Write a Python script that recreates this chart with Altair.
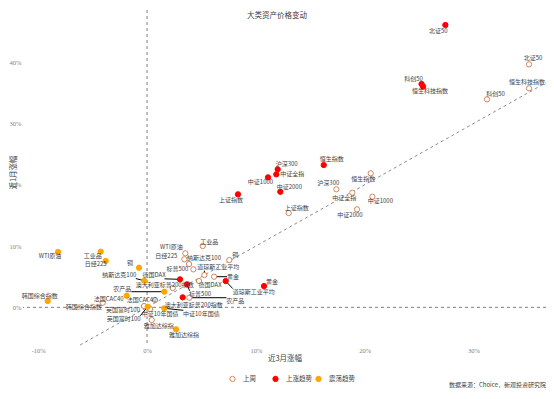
import altair as alt
import pandas as pd
import numpy as np

# ---------------- data ----------------
assets = ["北证50", "恒生科技指数", "科创50", "恒生指数", "沪深300", "中证全指", "中证1000",
          "中证2000", "上证指数", "黄金", "道琼斯工业平均", "德国DAX", "标普500", "纳斯达克100",
          "日经225", "WTI原油", "工业品", "铜", "农产品", "澳大利亚标普200指数", "法国CAC40",
          "韩国综合指数", "英国富时100", "中证10年国债", "雅加达综指"]
# last week (上周): 3-month change, 1-month change (%)
x_last = [35.11, 35.11, 31.25, 20.56, 17.40, 18.87, 20.71, 19.30, 13.02, 6.16, 5.27, 4.78, 4.26,
          3.86, 3.43, 3.52, 5.12, 7.56, 3.89, 2.36, 0.74, -4.07, -0.28, 0.28, 0.43]
y_last = [39.67, 35.76, 33.96, 21.88, 19.27, 18.71, 18.06, 16.00, 15.40, 5.00, 5.27, 4.29, 6.20,
          7.07, 7.84, 8.82, 10.01, 7.72, 1.57, 3.15, 1.19, 0.75, 0.21, -0.28, -2.07]
# this week
x_now = [27.42, 25.37, 25.23, 16.24, 12.01, 11.88, 11.12, 12.25, 8.36, 10.75, 7.23, 3.03, 3.68,
         -0.25, -3.80, -8.18, -4.26, -0.74, 1.59, 3.28, -1.87, -9.13, 0.06, 1.59, 2.67]
y_now = [46.09, 36.05, 36.46, 23.23, 22.53, 21.71, 21.22, 18.87, 18.45, 3.47, 4.29, 4.57, 3.76,
         4.34, 7.56, 9.03, 9.08, 6.47, 2.55, 1.63, 1.89, 1.03, 0.10, -0.16, -3.59]
trend = ["上涨趋势"] * 13 + ["震荡趋势"] * 6 + ["上涨趋势"] + ["震荡趋势"] * 5

series_names = ["上周", "上涨趋势", "震荡趋势"]
x_ticks = [-10, 0, 10, 20, 30]
y_ticks = [0, 10, 20, 30, 40]

# label placement (pixel offset of label centre from its point) and leader-line flags
lab_last_dx = [4, -2, 8.5, -7.5, -8, -8, 8, -7, 8, 19, 14, 11, -16, 15, -18, -14, 6.5, 6, 46, -8, -13.5, -19, -21, 10, 7]
lab_last_dy = [-6, -6, -5, 6, -6, 5.7, 4.5, 5.7, -4.7, 0, -8, 4, 0, -6, -3, -6.6, -4.5, -5, 3, -3, 0, 4.6, 4, 5, 5.7]
lead_last = [0, 0, 0, 0, 0, 0, 0, 0, 0, 1, 1, 0, 0, 0, 0, 0, 0, 0, 1, 0, 0, 0, 0, 0, 0]
lab_now_dx = [-7, 7, -8, 8, 9, 16, -7.5, 9, -7, 8, 28, -26, 13, -25, -10, -8, -8, -9, -42, 11, -18, -8, -24, 37, 8]
lab_now_dy = [6, 4, -5, -5.7, -5.3, 0, 5, -5, 5.7, -4, 11, -4, 10, -5.7, 3.3, 4, 4.3, -4.4, -2.4, 7.5, 3.3, -5, 12.6, 5.5, 5.7]
lead_now = [0, 0, 0, 0, 0, 0, 0, 0, 0, 0, 1, 1, 1, 1, 0, 0, 0, 0, 1, 0, 0, 0, 1, 1, 0]

# ---------------- layout ----------------
W, H = 523, 335
XD = [-11.4, 36.67]
YD = [-6.15, 48.54]
kx = W / (XD[1] - XD[0])
ky = H / (YD[1] - YD[0])
FS = 6
FONT = "Liberation Serif, Noto Sans CJK SC"
CJK = "Noto Sans CJK SC, Liberation Serif"


def text_w(s):
    return sum(FS if ord(c) > 255 else FS * 0.5 for c in s)


rows = []
for i, a in enumerate(assets):
    for kind in ("last", "now"):
        if kind == "last":
            x, y, dx, dy, ld, ser = x_last[i], y_last[i], lab_last_dx[i], lab_last_dy[i], lead_last[i], "上周"
        else:
            x, y, dx, dy, ld, ser = x_now[i], y_now[i], lab_now_dx[i], lab_now_dy[i], lead_now[i], trend[i]
        hw = text_w(a) / 2
        lx = x + dx / kx
        ly = y - dy / ky
        ex = x + (dx - np.sign(dx) * min(abs(dx), hw)) / kx
        ey = y - (dy - np.sign(dy) * min(abs(dy), 3.5)) / ky
        rows.append(dict(asset=a, x=x, y=y, series=ser, order=0 if kind == "last" else 1,
                         lx=lx, ly=ly, lead=ld, ex=ex, ey=ey))
df = pd.DataFrame(rows)

xs = alt.Scale(domain=XD, nice=False, zero=False)
ys = alt.Scale(domain=YD, nice=False, zero=False)

base = alt.Chart(df)

x_axis = alt.Axis(values=x_ticks, labelExpr="datum.value + '%'", title="近3月涨幅",
                  titleFontSize=7.5, titleFont=CJK, titleColor="#404040", titleFontWeight="normal",
                  titlePadding=1, labelPadding=2)
y_axis = alt.Axis(values=y_ticks, labelExpr="datum.value + '%'", title="近1月涨幅",
                  titleFontSize=7.5, titleFont=CJK, titleColor="#404040", titleFontWeight="normal",
                  titleX=-6, titleY=162, titleBaseline="bottom", labelPadding=2)

zero_v = alt.Chart(pd.DataFrame({"v": [0]})).mark_rule(color="#7F7F7F", strokeDash=[3, 3], strokeWidth=1).encode(
    x=alt.X("v:Q", scale=xs, axis=x_axis))
zero_h = alt.Chart(pd.DataFrame({"v": [0]})).mark_rule(color="#7F7F7F", strokeDash=[3, 3], strokeWidth=1).encode(
    y=alt.Y("v:Q", scale=ys, axis=y_axis))
diag = alt.Chart(pd.DataFrame({"a": [YD[0]], "b": [XD[1]]})).mark_rule(
    color="#8C8C8C", strokeDash=[3, 3], strokeWidth=1).encode(
    x=alt.X("a:Q", scale=xs), y=alt.Y("a:Q", scale=ys), x2="b:Q", y2="b:Q")

leaders = base.transform_filter("datum.lead == 1").mark_rule(color="#000000", strokeWidth=1).encode(
    x=alt.X("x:Q", scale=xs), y=alt.Y("y:Q", scale=ys), x2="ex:Q", y2="ey:Q")

points = base.mark_point(shape="circle", filled=True, size=28, strokeWidth=1, opacity=1).encode(
    x=alt.X("x:Q", scale=xs),
    y=alt.Y("y:Q", scale=ys),
    fill=alt.Fill("series:N", scale=alt.Scale(domain=series_names, range=["#FFFFFF", "#FF0000", "#FFA500"]),
                  legend=alt.Legend(title=None, orient="none", direction="horizontal", legendX=206,
                                    legendY=365, labelFontSize=6.5, labelFont=CJK, labelColor="#404040",
                                    symbolSize=28, symbolStrokeWidth=1, gridAlign="all",
                                    columnPadding=1, labelOffset=7, padding=0)),
    stroke=alt.Stroke("series:N", scale=alt.Scale(domain=series_names, range=["#D3875A", "#FF0000", "#FFA500"])),
    order="order:Q",
)

labels = base.mark_text(font=CJK, fontSize=FS, color="#404040", align="center", baseline="middle").encode(
    x=alt.X("lx:Q", scale=xs), y=alt.Y("ly:Q", scale=ys), text="asset:N")

title = alt.Chart(pd.DataFrame({"t": ["大类资产价格变动"]})).mark_text(
    font=CJK, fontSize=7.5, color="#404040", align="center", baseline="middle").encode(
    x=alt.value(254), y=alt.value(6), text="t:N")

source = alt.Chart(pd.DataFrame({"t": ["数据来源：Choice，新观投资研究院"]})).mark_text(
    font=CJK, fontSize=6, color="#404040", align="right", baseline="middle").encode(
    x=alt.value(523), y=alt.value(375), text="t:N")

chart = alt.layer(zero_v, zero_h, diag, leaders, points, labels, title, source).properties(
    width=W, height=H, autosize=alt.AutoSizeParams(type="none"),
    padding={"left": 15, "top": 2, "right": 0, "bottom": 43},
).configure_view(stroke=None).configure_axis(
    grid=False, domain=False, ticks=False, labelFont=FONT, labelFontSize=6.5, labelColor="#7F7F7F")

chart.save("out.html", embed_options={"renderer": "svg", "actions": False})
